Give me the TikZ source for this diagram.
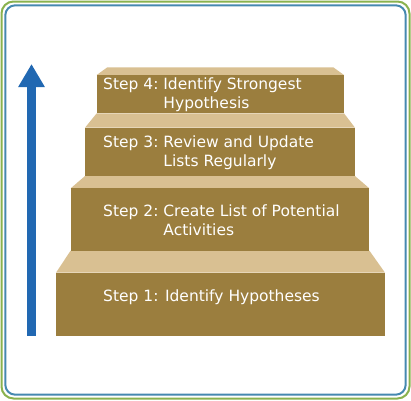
\documentclass[tikz,border=0pt]{standalone}
\usepackage{fontspec}
\setmainfont{DejaVu Sans}
\usetikzlibrary{arrows.meta}
\definecolor{stepbrown}{RGB}{155,126,62}
\definecolor{steptan}{RGB}{217,192,146}
\definecolor{arrowblue}{RGB}{33,104,178}
\definecolor{frameblue}{RGB}{70,137,176}
\definecolor{framegreen}{RGB}{138,178,78}
\begin{document}
\begin{tikzpicture}[x=1pt,y=-1pt,font=\fontsize{15.5}{19}\selectfont,
	stepfront/.style={fill=stepbrown},
	steptop/.style={fill=steptan},
	steplabel/.style={text=white,anchor=base west,inner sep=0pt,align=left}]
		\useasboundingbox (0,0) rectangle (411,400);
		% frames
		\draw[framegreen,line width=2pt,rounded corners=12pt] (1.5,1.5) rectangle (409.5,398.5);
		\draw[frameblue,line width=2pt,rounded corners=10pt] (5.3,5.3) rectangle (405.7,394.7);
		% arrow
		\coordinate (arrowfoot) at (31.5,335.5);
		\coordinate (arrowtip) at (31.5,64);
		\draw[arrowblue,line width=9pt,-{Triangle[width=25pt,length=23pt]}] (arrowfoot) -- (arrowtip);
		% step 1
		\fill[steptop] (56,272.7) -- (70.7,250.5) -- (369.3,250.5) -- (385,272.7) -- cycle;
		\fill[stepfront] (56,272.7) rectangle (385,335.7);
		% step 2
		\fill[steptop] (70.7,188.3) -- (85,176) -- (355,176) -- (369.3,188.3) -- cycle;
		\fill[stepfront] (70.7,188.3) rectangle (369.3,250.5);
		% step 3
		\fill[steptop] (85,127.7) -- (96.7,113.3) -- (344,113.3) -- (355,127.7) -- cycle;
		\fill[stepfront] (85,127.7) rectangle (355,176);
		% step 4
		\fill[steptop] (96.7,75) -- (107.3,67.3) -- (333.3,67.3) -- (344,75) -- cycle;
		\fill[stepfront] (96.7,75) rectangle (344,113.3);
		% labels
		\node[steplabel] (step1) at (103,301) {Step 1: Identify Hypotheses};
		\node[steplabel] (step2) at (103,216) {\begin{tabular}[t]{@{}l@{\ }l@{}}Step 2: & Create List of Potential\\ & Activities\end{tabular}};
		\node[steplabel] (step3) at (103,147.7) {\begin{tabular}[t]{@{}l@{\ }l@{}}Step 3: & Review and Update\\ & Lists Regularly\end{tabular}};
		\node[steplabel] (step4) at (103,89) {\begin{tabular}[t]{@{}l@{\ }l@{}}Step 4: & Identify Strongest\\ & Hypothesis\end{tabular}};
\end{tikzpicture}
\end{document}
